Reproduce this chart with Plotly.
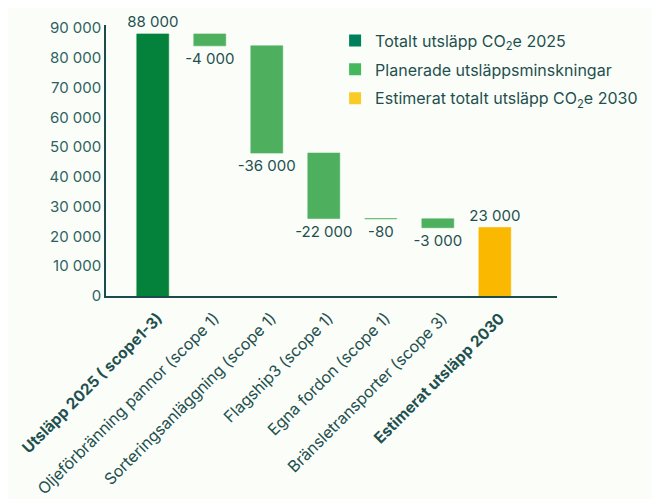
import plotly.graph_objects as go

categories = [
    "<b><span style='font-size:15.5px'>Utsläpp 2025 ( scope1-3)</span></b>",
    "Oljeförbränning pannor (scope 1)",
    "Sorteringsanläggning (scope 1)",
    "Flagship3 (scope 1)",
    "Egna fordon (scope 1)",
    "Bränsletransporter (scope 3)",
    "<b><span style='font-size:15.5px'>Estimerat utsläpp 2030</span></b>",
]
values = [88000, -4000, -36000, -22000, -80, -3000, 23000]
kinds = ["total2025", "reduction", "reduction", "reduction", "reduction", "reduction", "total2030"]
y_ticks = [0, 10000, 20000, 30000, 40000, 50000, 60000, 70000, 80000, 90000]

legend_names = [
    "Totalt utsläpp CO<sub>2</sub>e 2025",
    "Planerade utsläppsminskningar",
    "Estimerat totalt utsläpp CO<sub>2</sub>e 2030",
]

bar_colors = {"total2025": "#04813A", "reduction": "#4EB05E", "total2030": "#FBB800"}
legend_colors = ["#00805A", "#45B85C", "#F9CB27"]
text_color = "#1F5050"
font_family = "Inter, Lato, sans-serif"

def fmt(v):
    s = f"{abs(int(v)):,}".replace(",", " ")
    return ("-" if v < 0 else "") + s

bases = []
running = 0
for v, k in zip(values, kinds):
    if k == "reduction":
        bases.append(running)
        running += v
    else:
        bases.append(0)
        running = v

x_idx = list(range(len(categories)))

fig = go.Figure()
fig.add_trace(go.Bar(
    x=x_idx, y=values, base=bases,
    marker=dict(color=[bar_colors[k] for k in kinds],
                line=dict(color=[bar_colors[k] for k in kinds], width=0.6)),
    width=0.56,
    text=[fmt(v) for v in values],
    textposition="outside",
    constraintext="none",
    textfont=dict(size=15, color=text_color, family=font_family),
    cliponaxis=False,
    showlegend=False,
    hoverinfo="skip",
))

for i, (name, col) in enumerate(zip(legend_names, legend_colors)):
    fig.add_trace(go.Scatter(
        x=[None], y=[None], mode="markers", name=name, legendgroup=f"g{i}",
        marker=dict(symbol="square", size=14, color=col),
    ))

fig.update_layout(
    width=660, height=499,
    margin=dict(l=98, r=111, t=17, b=211),
    paper_bgcolor="#FBFEF8",
    plot_bgcolor="#FBFEF8",
    font=dict(family=font_family, color=text_color, size=15),
    separators=". ",
    legend=dict(x=0.508, y=1.005, xanchor="left", yanchor="top",
                bgcolor="rgba(0,0,0,0)", font=dict(size=16, color=text_color),
                itemsizing="constant", tracegroupgap=5),
    xaxis=dict(
        tickmode="array", tickvals=x_idx, ticktext=categories,
        tickangle=-45, range=[-0.82, 7.09], automargin=False,
        showline=True, linecolor="#1D4A4A", linewidth=1.5,
        showgrid=False, zeroline=False, ticks="",
        ticklabelstandoff=5, ticklabelshift=5,
        tickfont=dict(size=16, color=text_color),
    ),
    yaxis=dict(
        tickmode="array", tickvals=y_ticks, tickformat=",d",
        range=[0, 91000], automargin=False,
        showline=True, linecolor="#1D4A4A", linewidth=1.5,
        showgrid=False, zeroline=False, ticks="",
        tickfont=dict(size=15, color="#2E6262"),
    ),
    bargap=0.44,
)

fig.write_html("out.html")
